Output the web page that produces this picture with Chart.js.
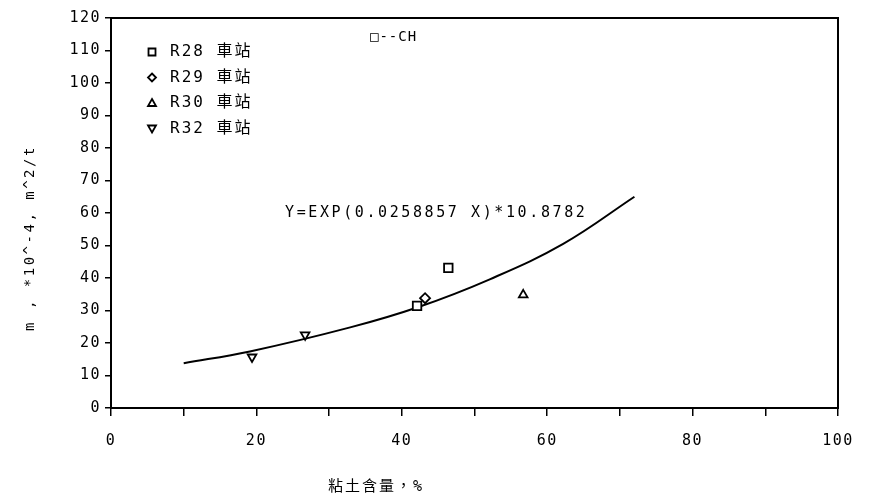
<!DOCTYPE html>
<html>
<head>
<meta charset="utf-8">
<script src="https://cdn.jsdelivr.net/npm/chart.js@4/dist/chart.umd.min.js"></script>
<style>
  html, body { margin: 0; padding: 0; background: #fff; }
  #wrap { width: 877px; height: 503px; }
</style>
</head>
<body>
<div id="wrap"><canvas id="chart" width="877" height="503"></canvas></div>
<script>
// station names for the legend
const stationNames = ["R28 車站", "R29 車站", "R30 車站", "R32 車站"];

const r28X = [42.1, 46.4];
const r28Y = [31.4, 43.1];
const r29X = [43.2];
const r29Y = [33.8];
const r30X = [56.7];
const r30Y = [34.8];
const r32X = [19.4, 26.7];
const r32Y = [15.7, 22.5];

// fitted curve
const fitX = [10, 19.1, 32.9, 42.2, 52.1, 62.2, 72];
const fitY = [13.8, 17.4, 24.8, 31.0, 39.6, 50.5, 65];

const xLabelValues = [0, 20, 40, 60, 80, 100];
const fitLabel = "Y=EXP(0.0258857 X)*10.8782";
const chLabel = "□--CH";
const xTitle = "粘土含量，%";
const yTitle = "m , *10^-4, m^2/t";

const monoFont = "'DejaVu Sans Mono', 'Noto Sans CJK TC', monospace";
const tickSpacing = "1.5px";

function pts(xs, ys) {
    return xs.map((x, i) => ({ x: x, y: ys[i] }));
}

const markerStyles = [
    { pointStyle: "rect", radius: 6, rotation: 0 },
    { pointStyle: "rectRot", radius: 5, rotation: 0 },
    { pointStyle: "triangle", radius: 5, rotation: 0 },
    { pointStyle: "triangle", radius: 5, rotation: 180 },
];

const stationData = [pts(r28X, r28Y), pts(r29X, r29Y), pts(r30X, r30Y), pts(r32X, r32Y)];

const datasets = stationData.map((d, i) => ({
    label: stationNames[i],
    data: d,
    showLine: false,
    pointStyle: markerStyles[i].pointStyle,
    pointRadius: markerStyles[i].radius,
    pointRotation: markerStyles[i].rotation,
    pointBackgroundColor: "#fff",
    pointBorderColor: "#000",
    pointBorderWidth: 1.8,
}));

datasets.push({
    label: "fit",
    data: pts(fitX, fitY),
    showLine: true,
    borderColor: "#000",
    borderWidth: 2,
    pointRadius: 0,
    tension: 0.4,
});

// small hand-drawn markers for the in-plot legend
function drawMarker(ctx, i, x, y) {
    ctx.beginPath();
    if (i === 0) {
        ctx.rect(x - 3.5, y - 3.5, 7, 7);
    } else if (i === 1) {
        ctx.moveTo(x, y - 4); ctx.lineTo(x + 4, y); ctx.lineTo(x, y + 4); ctx.lineTo(x - 4, y); ctx.closePath();
    } else if (i === 2) {
        ctx.moveTo(x, y - 4); ctx.lineTo(x + 4, y + 3); ctx.lineTo(x - 4, y + 3); ctx.closePath();
    } else {
        ctx.moveTo(x, y + 4); ctx.lineTo(x + 4, y - 3); ctx.lineTo(x - 4, y - 3); ctx.closePath();
    }
    ctx.stroke();
}

const framePlugin = {
    id: "frame",
    beforeLayout(chart) {
        chart.ctx.letterSpacing = tickSpacing;
    },
    beforeDraw(chart) {
        const ctx = chart.ctx;
        ctx.save();
        ctx.fillStyle = "#fff";
        ctx.fillRect(0, 0, chart.width, chart.height);
        ctx.restore();
        ctx.letterSpacing = tickSpacing;
    },
    afterDraw(chart) {
        const ctx = chart.ctx;
        const a = chart.chartArea;
        ctx.save();
        ctx.strokeStyle = "#000";
        ctx.lineWidth = 2;
        ctx.strokeRect(a.left, a.top, a.right - a.left, a.bottom - a.top);

        // legend inside plot
        ctx.lineWidth = 1.8;
        ctx.fillStyle = "#000";
        ctx.textBaseline = "middle";
        ctx.textAlign = "left";
        ctx.font = "16px " + monoFont;
        ctx.letterSpacing = "2px";
        stationNames.forEach((name, i) => {
            const y = 52 + i * 25.5;
            drawMarker(ctx, i, 152, y);
            ctx.fillText(name, 170, y);
        });

        ctx.font = "14px " + monoFont;
        ctx.letterSpacing = "1px";
        ctx.fillText(chLabel, 370, 37);

        ctx.font = "15px " + monoFont;
        ctx.letterSpacing = "2.6px";
        ctx.fillText(fitLabel, 285, 213);

        // axis titles
        ctx.font = "15px " + monoFont;
        ctx.letterSpacing = "2px";
        ctx.textAlign = "center";
        ctx.fillText(xTitle, 376, 487);

        ctx.translate(30, 238);
        ctx.rotate(-Math.PI / 2);
        ctx.font = "14px " + monoFont;
        ctx.letterSpacing = "2.5px";
        ctx.fillText(yTitle, 0, 0);
        ctx.restore();
    },
};

new Chart(document.getElementById("chart"), {
    type: "scatter",
    data: { datasets: datasets },
    plugins: [framePlugin],
    options: {
        responsive: false,
        animation: false,
        layout: { padding: { left: 0, right: 39, top: 18, bottom: 0 } },
        plugins: {
            legend: { display: false },
            tooltip: { enabled: false },
        },
        scales: {
            x: {
                type: "linear",
                min: 0,
                max: 100,
                afterFit: (scale) => { scale.height = 95; },
                afterBuildTicks: (scale) => {
                    const t = [];
                    for (let v = 0; v <= 100; v += 10) t.push({ value: v });
                    scale.ticks = t;
                },
                ticks: {
                    color: "#000",
                    font: { family: monoFont, size: 15 },
                    padding: 16,
                    maxRotation: 0,
                    autoSkip: false,
                    callback: (v) => (xLabelValues.includes(v) ? String(v) : ""),
                },
                grid: {
                    drawOnChartArea: false,
                    drawTicks: true,
                    tickLength: 8,
                    color: "#000",
                    lineWidth: 1.5,
                },
                border: { display: true, color: "#000", width: 2 },
            },
            y: {
                type: "linear",
                min: 0,
                max: 120,
                afterFit: (scale) => { scale.width = 111; },
                ticks: {
                    stepSize: 10,
                    color: "#000",
                    font: { family: monoFont, size: 15 },
                    padding: 4,
                },
                grid: {
                    drawOnChartArea: false,
                    drawTicks: true,
                    tickLength: 6,
                    color: "#000",
                    lineWidth: 1.5,
                },
                border: { display: true, color: "#000", width: 2 },
            },
        },
    },
});
</script>
</body>
</html>
